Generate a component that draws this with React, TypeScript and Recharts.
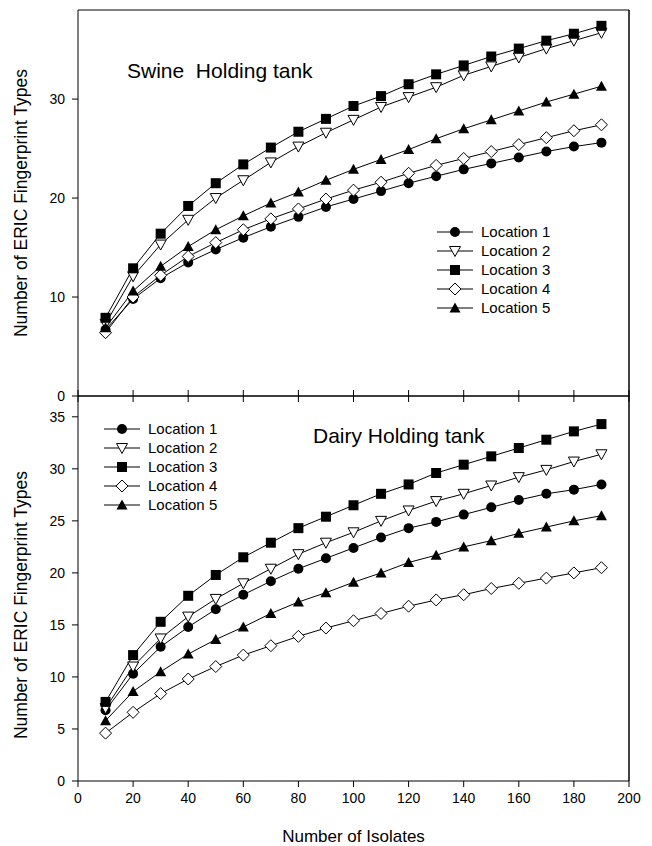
import React from 'react';
import { LineChart, Line, XAxis, YAxis, Legend, ReferenceLine } from 'recharts';

const isolates = [10, 20, 30, 40, 50, 60, 70, 80, 90, 100, 110, 120, 130, 140, 150, 160, 170, 180, 190];
const xTicks = [0, 20, 40, 60, 80, 100, 120, 140, 160, 180, 200];
const swineTicks = [0, 10, 20, 30];
const dairyTicks = [0, 5, 10, 15, 20, 25, 30, 35];

// swine holding tank
const swineLoc1 = [6.7, 9.8, 11.9, 13.5, 14.8, 16.0, 17.1, 18.1, 19.1, 19.9, 20.7, 21.5, 22.2, 22.9, 23.5, 24.1, 24.7, 25.2, 25.6];
const swineLoc2 = [7.3, 12.1, 15.3, 17.8, 20.0, 21.8, 23.6, 25.2, 26.6, 27.9, 29.2, 30.2, 31.2, 32.4, 33.3, 34.2, 35.1, 35.9, 36.7];
const swineLoc3 = [7.9, 12.9, 16.4, 19.2, 21.5, 23.4, 25.1, 26.7, 28.0, 29.3, 30.3, 31.5, 32.5, 33.4, 34.3, 35.1, 35.9, 36.6, 37.4];
const swineLoc4 = [6.4, 10.0, 12.2, 14.1, 15.5, 16.8, 17.9, 18.9, 19.9, 20.8, 21.6, 22.5, 23.3, 24.0, 24.7, 25.4, 26.1, 26.8, 27.4];
const swineLoc5 = [6.9, 10.6, 13.1, 15.1, 16.8, 18.2, 19.5, 20.6, 21.8, 22.9, 23.9, 24.9, 26.0, 27.0, 27.9, 28.8, 29.7, 30.5, 31.3];

// dairy holding tank
const dairyLoc1 = [6.8, 10.3, 12.9, 14.8, 16.5, 17.9, 19.2, 20.4, 21.4, 22.4, 23.4, 24.3, 24.9, 25.6, 26.3, 27.0, 27.6, 28.0, 28.5];
const dairyLoc2 = [7.0, 11.0, 13.7, 15.8, 17.5, 19.0, 20.4, 21.8, 22.9, 23.9, 25.0, 26.0, 26.9, 27.6, 28.4, 29.2, 29.9, 30.7, 31.4];
const dairyLoc3 = [7.6, 12.1, 15.3, 17.8, 19.8, 21.5, 22.9, 24.3, 25.4, 26.5, 27.6, 28.5, 29.6, 30.4, 31.2, 32.0, 32.8, 33.6, 34.3];
const dairyLoc4 = [4.6, 6.6, 8.4, 9.8, 11.0, 12.1, 13.0, 13.9, 14.7, 15.4, 16.1, 16.8, 17.4, 17.9, 18.5, 19.0, 19.5, 20.0, 20.5];
const dairyLoc5 = [5.8, 8.6, 10.5, 12.2, 13.6, 14.8, 16.1, 17.2, 18.1, 19.1, 20.0, 21.0, 21.7, 22.5, 23.1, 23.8, 24.4, 25.0, 25.5];

const FONT = '"Liberation Sans", Arial, sans-serif';

type Shape = 'circle' | 'triDown' | 'square' | 'diamond' | 'triUp';

const series: { key: string; name: string; shape: Shape }[] = [
  { key: 'l1', name: 'Location 1', shape: 'circle' },
  { key: 'l2', name: 'Location 2', shape: 'triDown' },
  { key: 'l3', name: 'Location 3', shape: 'square' },
  { key: 'l4', name: 'Location 4', shape: 'diamond' },
  { key: 'l5', name: 'Location 5', shape: 'triUp' },
];

const swineRows = isolates.map((x, i) => ({
  x, l1: swineLoc1[i], l2: swineLoc2[i], l3: swineLoc3[i], l4: swineLoc4[i], l5: swineLoc5[i],
}));
const dairyRows = isolates.map((x, i) => ({
  x, l1: dairyLoc1[i], l2: dairyLoc2[i], l3: dairyLoc3[i], l4: dairyLoc4[i], l5: dairyLoc5[i],
}));

function Marker({ shape, cx, cy }: { shape: Shape; cx: number; cy: number }) {
  switch (shape) {
    case 'circle':
      return <circle cx={cx} cy={cy} r={5} fill="#000" />;
    case 'square':
      return <rect x={cx - 5} y={cy - 5} width={10} height={10} fill="#000" />;
    case 'triDown':
      return <polygon points={`${cx - 5.5},${cy - 4.5} ${cx + 5.5},${cy - 4.5} ${cx},${cy + 5.5}`} fill="#fff" stroke="#000" strokeWidth={1} />;
    case 'triUp':
      return <polygon points={`${cx - 5.5},${cy + 4.5} ${cx + 5.5},${cy + 4.5} ${cx},${cy - 5.5}`} fill="#000" />;
    case 'diamond':
      return <polygon points={`${cx},${cy - 6} ${cx + 6},${cy} ${cx},${cy + 6} ${cx - 6},${cy}`} fill="#fff" stroke="#000" strokeWidth={1} />;
  }
}

const dotFor = (shape: Shape) => (props: any) => {
  const { cx, cy, index } = props;
  if (cx == null || cy == null) return <g key={`${shape}-${index}`} />;
  return (
    <g key={`${shape}-${index}`}>
      <Marker shape={shape} cx={cx} cy={cy} />
    </g>
  );
};

const LegendBox = () => (
  <div style={{ fontFamily: FONT, fontSize: 15, color: '#000' }}>
    {series.map((s) => (
      <div key={s.key} style={{ display: 'flex', alignItems: 'center', height: 19 }}>
        <svg width={36} height={14} style={{ marginRight: 8 }}>
          <line x1={0} y1={7} x2={36} y2={7} stroke="#000" strokeWidth={1} />
          <Marker shape={s.shape} cx={18} cy={7} />
        </svg>
        <span>{s.name}</span>
      </div>
    ))}
  </div>
);

const YTitle = ({ cy }: { cy: number }) => (
  <text
    x={21}
    y={cy}
    transform={`rotate(-90, 21, ${cy})`}
    textAnchor="middle"
    dominantBaseline="central"
    fontFamily={FONT}
    fontSize={17.5}
    fill="#000"
  >
    Number of ERIC Fingerprint Types
  </text>
);

const tickStyle = { fontFamily: FONT, fontSize: 14, fill: '#000' };
const noLabel = () => '';

function Panel({
  rows, yMax, yTicks, top, height, marginTop, marginBottom, bottomPanel, legendPos, yTitleY,
}: {
  rows: any[]; yMax: number; yTicks: number[]; top: number; height: number;
  marginTop: number; marginBottom: number; bottomPanel: boolean;
  legendPos: { left: number; top: number }; yTitleY: number;
}) {
  return (
    <div style={{ position: 'absolute', left: 0, top, width: 652, height }}>
      <LineChart width={652} height={height} data={rows} margin={{ top: marginTop, right: 23, bottom: marginBottom, left: 0 }}>
        <XAxis
          xAxisId="b"
          dataKey="x"
          type="number"
          domain={[0, 200]}
          ticks={xTicks}
          interval={0}
          height={bottomPanel ? 65 : 6}
          tickSize={6}
          tickMargin={6}
          stroke="#000"
          tick={bottomPanel ? tickStyle : { fontSize: 1 }}
          tickFormatter={bottomPanel ? undefined : noLabel}
          tickLine={{ stroke: '#000' }}
          label={bottomPanel ? { value: 'Number of Isolates', position: 'insideBottom', offset: 4, style: { fontFamily: FONT, fontSize: 17, fill: '#000' } } : undefined}
        />
        {bottomPanel && (
          <XAxis
            xAxisId="t"
            orientation="top"
            dataKey="x"
            type="number"
            domain={[0, 200]}
            ticks={xTicks}
            interval={0}
            height={6}
            tickSize={6}
            stroke="#000"
            tick={{ fontSize: 1 }}
            tickFormatter={noLabel}
            tickLine={{ stroke: '#000' }}
          />
        )}
        <YAxis
          yAxisId="l"
          domain={[0, yMax]}
          ticks={yTicks}
          interval={0}
          width={78}
          tickSize={6}
          tickMargin={7}
          stroke="#000"
          tick={tickStyle}
          label={<YTitle cy={yTitleY} />}
        />
        <ReferenceLine xAxisId="b" yAxisId="l" x={200} stroke="#000" strokeWidth={1.5} />
        {!bottomPanel && <ReferenceLine xAxisId="b" yAxisId="l" y={yMax} stroke="#000" strokeWidth={1} />}
        <Legend
          layout="vertical"
          align="center"
          verticalAlign="middle"
          wrapperStyle={{ left: legendPos.left, top: legendPos.top, width: 'auto' }}
          content={() => <LegendBox />}
        />
        {series.map((s) => (
          <Line
            key={s.key}
            xAxisId="b"
            yAxisId="l"
            dataKey={s.key}
            name={s.name}
            type="linear"
            stroke="#000"
            strokeWidth={1}
            dot={dotFor(s.shape)}
            activeDot={false}
            isAnimationActive={false}
          />
        ))}
      </LineChart>
    </div>
  );
}

export default function App() {
  return (
    <div style={{ position: 'absolute', left: 0, top: 0, width: 652, height: 846, background: '#fff' }}>
      <Panel
        rows={swineRows}
        yMax={39}
        yTicks={swineTicks}
        top={0}
        height={410}
        marginTop={10}
        marginBottom={8}
        bottomPanel={false}
        legendPos={{ left: 437, top: 222 }}
        yTitleY={203}
      />
      <Panel
        rows={dairyRows}
        yMax={37}
        yTicks={dairyTicks}
        top={386}
        height={460}
        marginTop={4}
        marginBottom={0}
        bottomPanel={true}
        legendPos={{ left: 104, top: 33 }}
        yTitleY={219}
      />
      <div style={{ position: 'absolute', left: 127, top: 61, fontFamily: FONT, fontSize: 21, lineHeight: '20px', whiteSpace: 'pre' }}>
        {'Swine  Holding tank'}
      </div>
      <div style={{ position: 'absolute', left: 313, top: 426, fontFamily: FONT, fontSize: 21, lineHeight: '20px', whiteSpace: 'pre' }}>
        {'Dairy Holding tank'}
      </div>
    </div>
  );
}
